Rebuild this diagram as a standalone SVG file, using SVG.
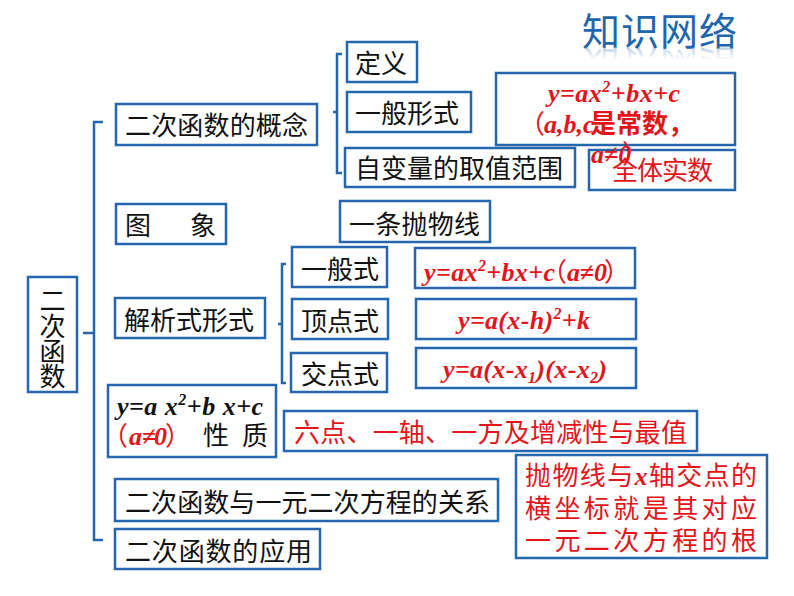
<svg xmlns="http://www.w3.org/2000/svg" width="794" height="596" viewBox="0 0 794 596">
<style>
.box{fill:#fff;stroke:#2566AC;stroke-width:2.5}
.br{fill:none;stroke:#2566AC;stroke-width:2.5}
.t{font-family:"Noto Sans CJK SC","Noto Sans",sans-serif;font-size:26px;fill:#111}
.r{font-family:"Noto Sans CJK SC","Noto Sans",sans-serif;font-size:26px;fill:#E4141B}
.p{font-family:"Noto Sans CJK SC","Noto Sans",sans-serif;font-size:26px;fill:#E4141B}
.f{font-family:"Liberation Serif","Noto Sans CJK SC",serif;font-size:26px;font-weight:bold;font-style:italic;fill:#E4141B}
.fk{font-family:"Liberation Serif","Noto Sans CJK SC",serif;font-size:26px;font-weight:bold;font-style:italic;fill:#111}
.title{font-family:"Noto Sans CJK SC",sans-serif;font-size:38px;fill:#1E66AE}
</style>
<defs>
<linearGradient id="refl" gradientUnits="userSpaceOnUse" x1="0" y1="47" x2="0" y2="34">
<stop offset="0" stop-color="#1E66AE" stop-opacity="0.3"/>
<stop offset="1" stop-color="#1E66AE" stop-opacity="0"/>
</linearGradient>
</defs>
<rect width="794" height="596" fill="#fff"/>

<g id="title">
<text class="title" x="582" y="45" textLength="155">知识网络</text>
<g transform="translate(0,94) scale(1,-1)">
<text class="title" x="582" y="45" textLength="155" style="fill:url(#refl)">知识网络</text>
</g>
</g>

<g id="connectors">
<path class="br" d="M103,122 H94 V540 H103 M83,333 H94"/>
<path class="br" d="M342,54 H337 V173 H342 M333,112 H337"/>
<path class="br" d="M286,264 H282 V383 H286 M278,324 H282"/>
</g>

<g id="main">
<rect class="box" x="28" y="277" width="49" height="115"/>
<text class="t" x="52.5" y="310" text-anchor="middle">二</text>
<text class="t" x="52.5" y="336" text-anchor="middle">次</text>
<text class="t" x="52.5" y="361" text-anchor="middle">函</text>
<text class="t" x="52.5" y="386" text-anchor="middle">数</text>
</g>

<g id="concept">
<rect class="box" x="116" y="104" width="201" height="41"/>
<text class="t" x="125" y="135" textLength="183">二次函数的概念</text>
</g>

<g id="image">
<rect class="box" x="116" y="204" width="110" height="40"/>
<text class="t" x="125" y="235">图</text>
<text class="t" x="190" y="235">象</text>
</g>

<g id="analytic">
<rect class="box" x="115" y="298" width="150" height="40"/>
<text class="t" x="124" y="330" textLength="130">解析式形式</text>
</g>

<g id="property">
<rect class="box" x="108" y="385" width="168" height="72"/>
<text class="fk" x="117" y="415" textLength="146">y=a x<tspan font-size="16" dy="-10">2</tspan><tspan dy="10">+b x+c</tspan></text>
<text class="p" x="102" y="445">（</text>
<text class="f" x="129" y="445" font-size="22">a≠</text>
<text class="f" x="154" y="445" font-size="22">0</text>
<text class="p" x="165" y="445">）</text>
<text class="t" x="203" y="445">性</text>
<text class="t" x="242" y="445">质</text>
</g>

<g id="relation">
<rect class="box" x="115" y="479" width="383" height="42"/>
<text class="t" x="125" y="512" textLength="365">二次函数与一元二次方程的关系</text>
</g>

<g id="application">
<rect class="box" x="115" y="529" width="205" height="40"/>
<text class="t" x="125" y="561" textLength="187">二次函数的应用</text>
</g>

<g id="definition">
<rect class="box" x="347" y="42" width="70" height="40"/>
<text class="t" x="355" y="73">定义</text>
</g>

<g id="general-form">
<rect class="box" x="347" y="92" width="124" height="40"/>
<text class="t" x="355" y="123">一般形式</text>
</g>

<g id="domain">
<rect class="box" x="345" y="148" width="230" height="39"/>
<text class="t" x="355" y="178">自变量的取值范围</text>
</g>

<g id="all-real">
<rect class="box" x="589" y="150" width="146" height="40"/>
<text class="r" x="612" y="180" textLength="101">全体实数</text>
</g>

<g id="formula-top">
<rect class="box" x="496" y="73" width="239" height="72"/>
<text class="f" x="548" y="102" textLength="132">y=ax<tspan font-size="16" dy="-10">2</tspan><tspan dy="10">+bx+c</tspan></text>
<text class="p" x="519" y="133" font-size="24">（</text>
<text class="f" x="544" y="133" font-size="24">a,b,c</text>
<text class="p" x="590" y="133" font-size="24" font-weight="bold">是常数，</text>
</g>

<g id="parabola">
<rect class="box" x="340" y="201" width="150" height="41"/>
<text class="t" x="349" y="234" textLength="131">一条抛物线</text>
</g>

<g id="general">
<rect class="box" x="292" y="247" width="95" height="40"/>
<text class="t" x="301" y="279">一般式</text>
</g>

<g id="vertex">
<rect class="box" x="292" y="299" width="96" height="40"/>
<text class="t" x="301" y="331">顶点式</text>
</g>

<g id="intercept">
<rect class="box" x="291" y="353" width="96" height="39"/>
<text class="t" x="301" y="384">交点式</text>
</g>

<g id="formula-general">
<rect class="box" x="415" y="248" width="220" height="40"/>
<text class="f" x="424" y="281" textLength="131">y=ax<tspan font-size="16" dy="-10">2</tspan><tspan dy="10">+bx+c</tspan></text>
<text class="p" x="541" y="281">（</text>
<text class="f" x="567" y="281" textLength="40">a≠0</text>
<text class="p" x="604" y="281">）</text>
</g>

<g id="formula-vertex">
<rect class="box" x="416" y="299" width="220" height="40"/>
<text class="f" x="458" y="329" textLength="132">y=a(x-h)<tspan font-size="16" dy="-10">2</tspan><tspan dy="10">+k</tspan></text>
</g>

<g id="formula-intercept">
<rect class="box" x="416" y="348" width="220" height="40"/>
<text class="f" x="443" y="378" textLength="164">y=a(x-x<tspan font-size="16" dy="5">1</tspan><tspan dy="-5">)(x-x</tspan><tspan font-size="16" dy="5">2</tspan><tspan dy="-5">)</tspan></text>
</g>

<g id="six-points">
<rect class="box" x="284" y="411" width="413" height="40"/>
<text class="r" x="294" y="442" textLength="393">六点、一轴、一方及增减性与最值</text>
</g>

<g id="roots">
<rect class="box" x="516" y="455" width="251" height="103"/>
<text class="r" x="525" y="485" textLength="232">抛物线与<tspan font-family="Liberation Serif" font-style="italic" font-weight="bold">x</tspan>轴交点的</text>
<text class="r" x="525" y="518" textLength="232">横坐标就是其对应</text>
<text class="r" x="525" y="550" textLength="232">一元二次方程的根</text>
</g>

<g id="formula-top-overflow">
<text class="f" x="591" y="163" font-size="24">a≠0</text>
<text class="p" x="622" y="163" font-size="24">）</text>
</g>
</svg>
